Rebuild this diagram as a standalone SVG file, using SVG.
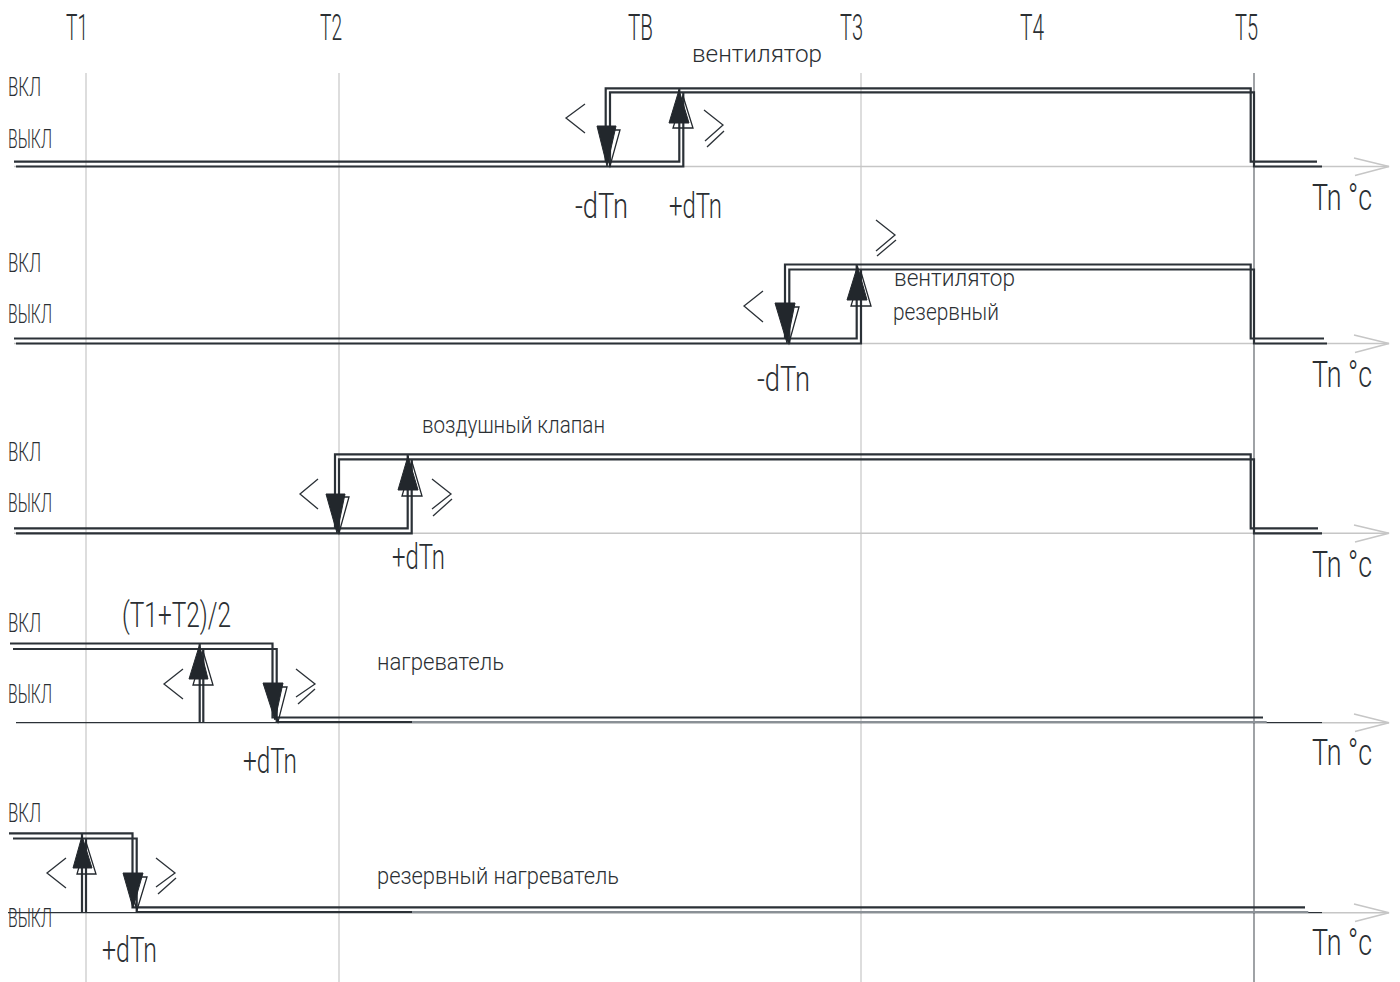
<svg xmlns="http://www.w3.org/2000/svg" width="1400" height="982" viewBox="0 0 1400 982">
<style>
.g{stroke:#d2d2d2;stroke-width:1.5;fill:none}
.g5{stroke:#60656b;stroke-width:1.2;fill:none}
.ax{stroke:#c6c6c6;stroke-width:1.5;fill:none}
.axd{stroke:#2b3137;stroke-width:1.2;fill:none}
.ln{stroke:#2b3137;stroke-width:2.2;fill:none}
.lg{stroke:#8a9096;stroke-width:2.2;fill:none}
.af{fill:#22272c;stroke:#22272c;stroke-width:1}
.ao{fill:none;stroke:#22272c;stroke-width:1.3}
.ch{stroke:#2b3137;stroke-width:1.3;fill:none}
text{font-family:Roboto,"Liberation Sans",Arial,sans-serif;font-weight:300;fill:#2b2f33}
.tt{font-size:37px}
.sw{font-size:25px}
.dt{font-size:35px}
.lb{font-size:23px}
</style>

<g id="grid">
<line class="g" x1="86" y1="73" x2="86" y2="982"/>
<line class="g" x1="339" y1="73" x2="339" y2="982"/>
<line class="g" x1="861" y1="73" x2="861" y2="982"/>
<line class="g5" x1="1254" y1="73" x2="1254" y2="982"/>
</g>

<g id="headers">
<text class="tt" x="66" y="40" textLength="22" lengthAdjust="spacingAndGlyphs">T1</text>
<text class="tt" x="320" y="40" textLength="22" lengthAdjust="spacingAndGlyphs">T2</text>
<text class="tt" x="628" y="40" textLength="25" lengthAdjust="spacingAndGlyphs">TB</text>
<text class="tt" x="840" y="40" textLength="23" lengthAdjust="spacingAndGlyphs">T3</text>
<text class="tt" x="1020" y="40" textLength="24" lengthAdjust="spacingAndGlyphs">T4</text>
<text class="tt" x="1235" y="40" textLength="23" lengthAdjust="spacingAndGlyphs">T5</text>
</g>

<g id="axes">
<line class="ax" x1="14" y1="166.5" x2="1389" y2="166.5"/>
<polyline class="ax" points="1354,158 1389,166.5 1355,175.5"/>
<line class="ax" x1="14" y1="343.5" x2="1389" y2="343.5"/>
<polyline class="ax" points="1354,335 1389,343.5 1355,352.5"/>
<line class="ax" x1="14" y1="533.3" x2="1389" y2="533.3"/>
<polyline class="ax" points="1354,525 1389,533.3 1355,542"/>
<line class="ax" x1="1322" y1="722.7" x2="1389" y2="722.7"/>
<line class="axd" x1="16" y1="722.7" x2="1322" y2="722.7"/>
<polyline class="ax" points="1354,714 1389,722.7 1355,731.5"/>
<line class="ax" x1="1322" y1="912.7" x2="1389" y2="912.7"/>
<line class="axd" x1="8" y1="912.7" x2="1322" y2="912.7"/>
<polyline class="ax" points="1354,904 1389,912.7 1355,921.5"/>
</g>

<g id="fan">
<path class="ln" d="M14,161.7 H679.3 V88.3 M605.7,161.7 V88.3 H1250.7 V161.7 H1317"/>
<path class="ln" d="M16,166.5 H683.3 V92.3 M610,166.5 V92.3 H1254 V166.5 H1322"/>
<polygon class="ao" points="601,130 620,130 610,166"/>
<polygon class="af" points="597,126 616,126 607,166"/>
<polygon class="ao" points="673,128 693,128 683,96"/>
<polygon class="af" points="669,123 689,123 679,90"/>
<polyline class="ch" points="585,104 566,118 585,133"/>
<polyline class="ch" points="704,110 723,125 705,141"/>
<line class="ch" x1="707" y1="147" x2="724" y2="131"/>
<text class="sw" x="8" y="96" textLength="33" lengthAdjust="spacingAndGlyphs">ВКЛ</text>
<text class="sw" x="8" y="148" textLength="44" lengthAdjust="spacingAndGlyphs">ВЫКЛ</text>
<text class="lb" x="692" y="62" textLength="130" lengthAdjust="spacingAndGlyphs">вентилятор</text>
<text class="dt" x="575" y="218" textLength="53" lengthAdjust="spacingAndGlyphs">-dTn</text>
<text class="dt" x="669" y="218" textLength="53" lengthAdjust="spacingAndGlyphs">+dTn</text>
<text class="tt" x="1312" y="210" textLength="60" lengthAdjust="spacingAndGlyphs">Tn °c</text>
</g>

<g id="fan-reserve">
<path class="ln" d="M14,338.5 H856.7 V264.5 M785,338.5 V264.5 H1250.7 V338.5 H1324"/>
<path class="ln" d="M16,343.5 H861 V269.5 M789.3,343.5 V269.5 H1254 V343.5 H1327"/>
<polygon class="ao" points="779,307 799,307 789,343"/>
<polygon class="af" points="775,303 795,303 787,343"/>
<polygon class="ao" points="851,306 871,306 861,272"/>
<polygon class="af" points="847,300 867,300 857.5,266"/>
<polyline class="ch" points="763,291 744,306 763,322"/>
<polyline class="ch" points="876,220 895,235 876,251"/>
<line class="ch" x1="877" y1="256" x2="896" y2="240"/>
<text class="sw" x="8" y="272" textLength="33" lengthAdjust="spacingAndGlyphs">ВКЛ</text>
<text class="sw" x="8" y="323" textLength="44" lengthAdjust="spacingAndGlyphs">ВЫКЛ</text>
<text class="lb" x="894" y="286" textLength="121" lengthAdjust="spacingAndGlyphs">вентилятор</text>
<text class="lb" x="893" y="320" textLength="106" lengthAdjust="spacingAndGlyphs">резервный</text>
<text class="dt" x="757" y="391" textLength="53" lengthAdjust="spacingAndGlyphs">-dTn</text>
<text class="tt" x="1312" y="387" textLength="60" lengthAdjust="spacingAndGlyphs">Tn °c</text>
</g>

<g id="damper">
<path class="ln" d="M14,528.3 H407.7 V454.3 M335,528.3 V454.3 H1250.7 V528.3 H1318"/>
<path class="ln" d="M16,533.3 H411.7 V459.3 M339,533.3 V459.3 H1254 V533.3 H1322"/>
<polygon class="ao" points="330,497 349,497 339,533"/>
<polygon class="af" points="326,494 345,494 337,533"/>
<polygon class="ao" points="402,496 422,496 412,462"/>
<polygon class="af" points="398,490 418,490 408,456"/>
<polyline class="ch" points="318,479 300,494 318,509"/>
<polyline class="ch" points="432,479 451,494 432,509"/>
<line class="ch" x1="433" y1="516" x2="452" y2="499"/>
<text class="sw" x="8" y="461" textLength="33" lengthAdjust="spacingAndGlyphs">ВКЛ</text>
<text class="sw" x="8" y="512" textLength="44" lengthAdjust="spacingAndGlyphs">ВЫКЛ</text>
<text class="lb" x="422" y="433" textLength="183" lengthAdjust="spacingAndGlyphs">воздушный клапан</text>
<text class="dt" x="392" y="569" textLength="53" lengthAdjust="spacingAndGlyphs">+dTn</text>
<text class="tt" x="1312" y="577" textLength="60" lengthAdjust="spacingAndGlyphs">Tn °c</text>
</g>

<g id="heater">
<path class="ln" d="M10,643.5 H272.5 V717.5 H1263 M199.7,643.5 V723"/>
<path class="ln" d="M13,649 H276.7 V722 H412 M203.3,649 V723"/>
<path class="lg" d="M412,722 H1266.7"/>
<polygon class="ao" points="193,685 213,685 203,651"/>
<polygon class="af" points="189,679 208,679 199.5,645"/>
<polygon class="ao" points="267,687 287,687 278,722"/>
<polygon class="af" points="263,683 283,683 275,720"/>
<polyline class="ch" points="183,669 164,684 183,699"/>
<polyline class="ch" points="296,669 315,684 296,697"/>
<line class="ch" x1="298" y1="704" x2="315" y2="689"/>
<text class="sw" x="8" y="632" textLength="33" lengthAdjust="spacingAndGlyphs">ВКЛ</text>
<text class="sw" x="8" y="703" textLength="44" lengthAdjust="spacingAndGlyphs">ВЫКЛ</text>
<text class="dt" x="122" y="627" textLength="109" lengthAdjust="spacingAndGlyphs">(T1+T2)/2</text>
<text class="lb" x="377" y="670" textLength="127" lengthAdjust="spacingAndGlyphs">нагреватель</text>
<text class="dt" x="243" y="773" textLength="54" lengthAdjust="spacingAndGlyphs">+dTn</text>
<text class="tt" x="1312" y="765" textLength="60" lengthAdjust="spacingAndGlyphs">Tn °c</text>
</g>

<g id="heater-reserve">
<path class="ln" d="M9,833.3 H132.5 V907.3 H1305 M82,833.3 V912"/>
<path class="ln" d="M13,838.5 H136.7 V912 H412 M86,838.5 V912"/>
<path class="lg" d="M412,912 H1308.3"/>
<polygon class="ao" points="77,874 96,874 86,842"/>
<polygon class="af" points="73,868 92,868 82,836"/>
<polygon class="ao" points="127,877 147,877 137,910"/>
<polygon class="af" points="123,873 143,873 133,908"/>
<polyline class="ch" points="66,858 47,873 66,888"/>
<polyline class="ch" points="156,858 175,873 156,887"/>
<line class="ch" x1="158" y1="894" x2="176" y2="878"/>
<text class="sw" x="8" y="822" textLength="33" lengthAdjust="spacingAndGlyphs">ВКЛ</text>
<text class="sw" x="8" y="927" textLength="44" lengthAdjust="spacingAndGlyphs">ВЫКЛ</text>
<text class="lb" x="377" y="884" textLength="242" lengthAdjust="spacingAndGlyphs">резервный нагреватель</text>
<text class="dt" x="102" y="962" textLength="55" lengthAdjust="spacingAndGlyphs">+dTn</text>
<text class="tt" x="1312" y="955" textLength="60" lengthAdjust="spacingAndGlyphs">Tn °c</text>
</g>
</svg>
